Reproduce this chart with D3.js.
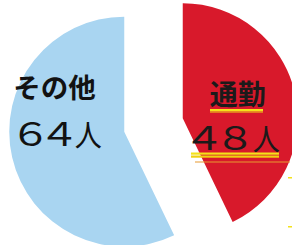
<!DOCTYPE html>
<html><head><meta charset="utf-8">
<script src="https://cdn.jsdelivr.net/npm/d3@7"></script>
<style>
html,body{margin:0;padding:0;background:#fff;}
svg{display:block;}
text{font-family:"Noto Sans CJK JP","Noto Sans",sans-serif;}
</style></head>
<body>
<svg id="c" width="292" height="245"></svg>
<script>
const categories = ["通勤", "その他"];
const values = [48, 64];
const unit = "人";

const colors = ["#d8192b", "#a9d5f1"];
const cx = 153.5, cy = 125, R = 115, explode = 30;

const toFull = s => String(s).replace(/[0-9]/g, d => String.fromCharCode(d.charCodeAt(0) + 0xFEE0));

const svg = d3.select("#c");
const pie = d3.pie().sort(null).value(d => d)(values);
const arc = d3.arc().innerRadius(0).outerRadius(R);

const g = svg.append("g").attr("transform", `translate(${cx},${cy})`);
const centers = pie.map(p => {
  const a = (p.startAngle + p.endAngle) / 2;
  return [Math.sin(a) * explode, -Math.cos(a) * explode];
});
g.selectAll("path").data(pie).join("path")
  .attr("d", arc)
  .attr("fill", (d, i) => colors[i])
  .attr("transform", (d, i) => `translate(${centers[i][0]},${centers[i][1]})`);

// label layout (relative to each slice's own centre)
const labelLayout = [
  {dx1: 27, y1: 105, size1: 28, dx2: 21.5, adv: 31, y2: 150, fill: "#1c1a1a"},
  {dx1: -111, y1: 97.5, size1: 27.5, dx2: -94, adv: 29, y2: 146, fill: "#121212"}
];
const dSize = 33, dScale = 1.25;
pie.forEach((p, i) => {
  const L = labelLayout[i];
  const sx = cx + centers[i][0];
  svg.append("text").attr("x", sx + L.dx1).attr("y", L.y1)
    .attr("font-size", L.size1).attr("font-weight", 700).attr("fill", L.fill)
    .text(categories[i]);
  const c0 = sx + L.dx2;
  const digits = toFull(values[i]);
  const n = Array.from(digits).length;
  svg.append("text")
    .attr("font-size", dSize).attr("font-weight", 400).attr("fill", L.fill)
    .attr("letter-spacing", L.adv / dScale - dSize)
    .attr("transform", `translate(${c0 - dSize * dScale / 2},${L.y2}) scale(${dScale},1)`)
    .text(digits);
  svg.append("text")
    .attr("text-anchor", "middle")
    .attr("font-size", 30).attr("font-weight", 400).attr("fill", L.fill)
    .attr("transform", `translate(${c0 + n * L.adv},${L.y2}) scale(0.9,1)`)
    .text(unit);
});

// highlight underlines on the first category
const ul = svg.append("g");
ul.append("rect").attr("x", 210).attr("y", 109).attr("width", 53).attr("height", 2.5).attr("fill", "#f4e21a");
ul.append("rect").attr("x", 210).attr("y", 111.5).attr("width", 53).attr("height", 1.2).attr("fill", "#e8a020");
ul.append("rect").attr("x", 191).attr("y", 152.5).attr("width", 88).attr("height", 2.2).attr("fill", "#f4e21a");
ul.append("rect").attr("x", 191).attr("y", 155.5).attr("width", 88).attr("height", 2.2).attr("fill", "#f0d010");
ul.append("rect").attr("x", 195).attr("y", 161.5).attr("width", 95).attr("height", 1).attr("fill", "#e89a30");
ul.append("rect").attr("x", 288).attr("y", 177).attr("width", 4).attr("height", 1.5).attr("fill", "#f4e21a");
ul.append("rect").attr("x", 288).attr("y", 226).attr("width", 4).attr("height", 1.5).attr("fill", "#f4e21a");
</script>
</body></html>
